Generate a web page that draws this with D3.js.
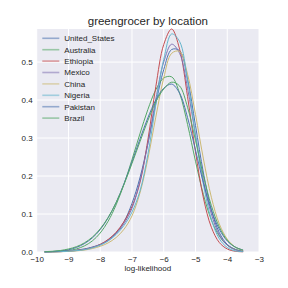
<!DOCTYPE html>
<html>
<head>
<meta charset="utf-8">
<script src="https://cdn.jsdelivr.net/npm/d3@7"></script>
<style>
  body { margin: 0; background: #fff; }
  svg { display: block; font-family: "Liberation Sans", Arial, sans-serif; }
</style>
</head>
<body>
<svg id="chart" width="288" height="288"></svg>
<script>
var locations = ["United_States", "Australia", "Ethiopia", "Mexico", "China", "Nigeria", "Pakistan", "Brazil"];
var colors = ["#4C72B0", "#55A868", "#C44E52", "#8172B2", "#CCB974", "#64B5CD", "#4C72B0", "#55A868"];

// sample points of each density curve (x = log-likelihood)
var xs = [-9.75, -9.5, -9.25, -9, -8.75, -8.5, -8.25, -8, -7.75, -7.5, -7.25, -7, -6.75,
          -6.5, -6.25, -6, -5.75, -5.5, -5.25, -5, -4.75, -4.5, -4.25, -4, -3.75, -3.5];

var unitedStates = [0, 0.0007, 0.0015, 0.003, 0.005, 0.008, 0.013, 0.02, 0.032, 0.05, 0.08, 0.128, 0.195,
                    0.285, 0.39, 0.48, 0.533, 0.53, 0.455, 0.333, 0.208, 0.111, 0.051, 0.02, 0.007, 0.002];
var australia = [0.0004, 0.001, 0.002, 0.004, 0.008, 0.016, 0.029, 0.05, 0.081, 0.124, 0.179, 0.243, 0.311,
                 0.375, 0.427, 0.458, 0.461, 0.418, 0.336, 0.239, 0.151, 0.084, 0.042, 0.018, 0.007, 0.002];
var ethiopia = [0, 0.0005, 0.001, 0.002, 0.004, 0.007, 0.012, 0.02, 0.033, 0.052, 0.08, 0.12, 0.182,
                0.295, 0.435, 0.546, 0.587, 0.534, 0.409, 0.264, 0.142, 0.065, 0.025, 0.008, 0.002, 0.0005];
var mexico = [0, 0.0005, 0.001, 0.002, 0.004, 0.007, 0.012, 0.019, 0.03, 0.048, 0.075, 0.115, 0.186,
              0.285, 0.402, 0.5, 0.547, 0.523, 0.431, 0.307, 0.188, 0.1, 0.045, 0.018, 0.006, 0.002];
var china = [0, 0.0003, 0.0007, 0.0015, 0.003, 0.005, 0.009, 0.015, 0.024, 0.038, 0.06, 0.095, 0.155,
             0.245, 0.355, 0.458, 0.523, 0.528, 0.468, 0.362, 0.245, 0.144, 0.074, 0.034, 0.013, 0.004];
var nigeria = [0, 0.0005, 0.001, 0.002, 0.0035, 0.006, 0.011, 0.018, 0.029, 0.046, 0.07, 0.105, 0.16,
               0.256, 0.388, 0.507, 0.574, 0.554, 0.452, 0.309, 0.178, 0.086, 0.035, 0.012, 0.003, 0.001];
var pakistan = [0.0005, 0.0013, 0.003, 0.006, 0.012, 0.022, 0.037, 0.059, 0.09, 0.13, 0.18, 0.237, 0.297,
                0.353, 0.4, 0.431, 0.442, 0.418, 0.354, 0.268, 0.182, 0.11, 0.06, 0.029, 0.013, 0.005];
var brazil = [0.001, 0.002, 0.004, 0.008, 0.014, 0.024, 0.039, 0.061, 0.091, 0.13, 0.178, 0.233, 0.29,
              0.346, 0.395, 0.429, 0.447, 0.437, 0.381, 0.294, 0.201, 0.122, 0.066, 0.031, 0.013, 0.005];

var series = [unitedStates, australia, ethiopia, mexico, china, nigeria, pakistan, brazil];

var xTicks = [-10, -9, -8, -7, -6, -5, -4, -3];
var yTicks = [0.0, 0.1, 0.2, 0.3, 0.4, 0.5];

var svg = d3.select("#chart");
var plotLeft = 36.7, plotRight = 259, plotTop = 29, plotBottom = 252;

var x = d3.scaleLinear().domain([-10, -3]).range([plotLeft, plotRight]);
var y = d3.scaleLinear().domain([0, 0.587]).range([plotBottom, plotTop]);

// plot background
svg.append("rect")
  .attr("x", plotLeft)
  .attr("y", plotTop)
  .attr("width", plotRight - plotLeft)
  .attr("height", plotBottom - plotTop)
  .attr("fill", "#EAEAF2");

// grid
svg.append("g")
  .selectAll("line")
  .data(xTicks)
  .enter().append("line")
  .attr("x1", function(d) { return x(d); })
  .attr("x2", function(d) { return x(d); })
  .attr("y1", plotTop)
  .attr("y2", plotBottom)
  .attr("stroke", "#fff")
  .attr("stroke-width", 1);

svg.append("g")
  .selectAll("line")
  .data(yTicks)
  .enter().append("line")
  .attr("x1", plotLeft)
  .attr("x2", plotRight)
  .attr("y1", function(d) { return y(d); })
  .attr("y2", function(d) { return y(d); })
  .attr("stroke", "#fff")
  .attr("stroke-width", 1);

// axes (labels only, no tick marks)
var xAxis = svg.append("g")
  .attr("transform", "translate(0," + plotBottom + ")")
  .call(d3.axisBottom(x).tickValues(xTicks).tickSize(0).tickPadding(4)
    .tickFormat(function(d) { return d3.format("d")(d).replace("-", "\u2212"); }));
var yAxis = svg.append("g")
  .attr("transform", "translate(" + plotLeft + ",0)")
  .call(d3.axisLeft(y).tickValues(yTicks).tickSize(0).tickPadding(4).tickFormat(d3.format(".1f")));

[xAxis, yAxis].forEach(function(a) {
  a.select(".domain").remove();
  a.selectAll("text")
    .attr("font-size", "8px")
    .attr("fill", "#262626")
    .attr("font-family", "Liberation Sans, Arial, sans-serif");
});

// curves
var line = d3.line()
  .x(function(d, i) { return x(xs[i]); })
  .y(function(d) { return y(d); })
  .curve(d3.curveCatmullRom);

svg.append("g")
  .selectAll("path")
  .data(series)
  .enter().append("path")
  .attr("d", line)
  .attr("fill", "none")
  .attr("stroke", function(d, i) { return colors[i]; })
  .attr("stroke-width", 1);

// title and axis label
svg.append("text")
  .attr("x", (plotLeft + plotRight) / 2)
  .attr("y", 24.5)
  .attr("text-anchor", "middle")
  .attr("font-size", "11.5px")
  .attr("fill", "#262626")
  .text("greengrocer by location");

svg.append("text")
  .attr("x", (plotLeft + plotRight) / 2)
  .attr("y", 271)
  .attr("text-anchor", "middle")
  .attr("font-size", "8px")
  .attr("fill", "#262626")
  .text("log-likelihood");

// legend
var legend = svg.append("g")
  .selectAll("g")
  .data(locations)
  .enter().append("g")
  .attr("transform", function(d, i) { return "translate(0," + (38.3 + i * 11.4) + ")"; });

legend.append("line")
  .attr("x1", 42.3)
  .attr("x2", 59.3)
  .attr("stroke", function(d, i) { return colors[i]; })
  .attr("stroke-width", 1.6)
  .attr("stroke-opacity", 0.55);

legend.append("text")
  .attr("x", 64.3)
  .attr("dy", "0.35em")
  .attr("font-size", "8px")
  .attr("fill", "#262626")
  .text(function(d) { return d; });
</script>
</body>
</html>
